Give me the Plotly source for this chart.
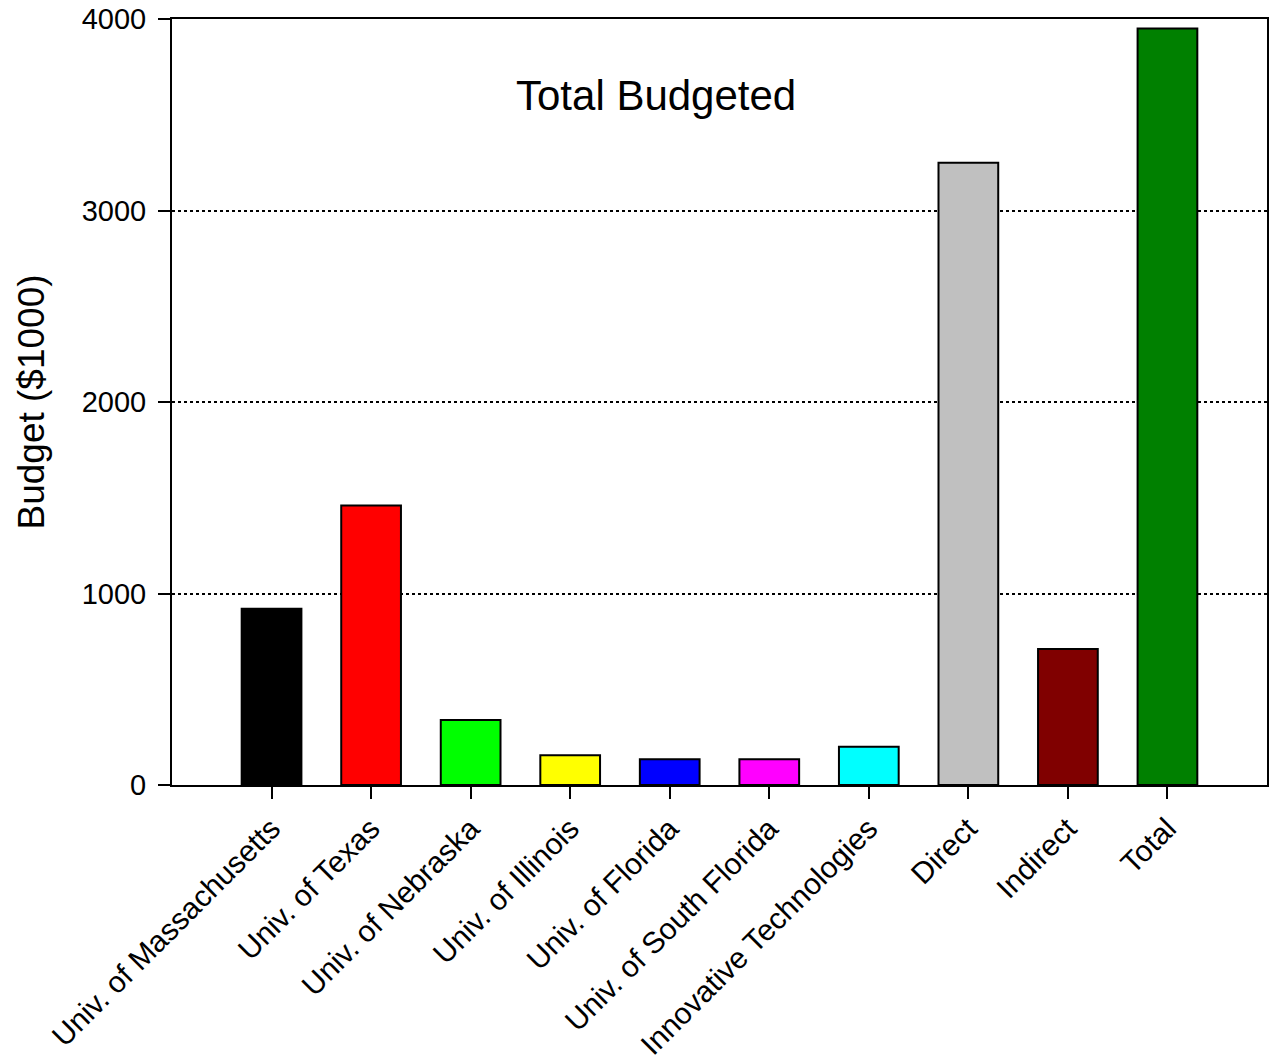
import plotly.graph_objects as go

categories = ["Univ. of Massachusetts", "Univ. of Texas", "Univ. of Nebraska",
              "Univ. of Illinois", "Univ. of Florida", "Univ. of South Florida",
              "Innovative Technologies", "Direct", "Indirect", "Total"]
budget = [920, 1460, 340, 155, 135, 135, 200, 3250, 710, 3950]
colors = ["#000000", "#ff0000", "#00ff00", "#ffff00", "#0000ff", "#ff00ff",
          "#00ffff", "#c0c0c0", "#800000", "#008000"]
y_ticks = [0, 1000, 2000, 3000, 4000]

font = "Liberation Sans, Arial, sans-serif"

fig = go.Figure(go.Bar(
    x=categories, y=budget, width=0.6,
    marker=dict(color=colors, line=dict(color="black", width=2)),
))

fig.update_layout(
    width=1270, height=1061,
    margin=dict(l=172, r=3, t=19, b=276),
    plot_bgcolor="white", paper_bgcolor="white",
    showlegend=False,
    font=dict(family=font, color="black", size=28),
    annotations=[dict(text="Total Budgeted", x=0.4416, y=0.9, xref="paper", yref="paper",
                      xanchor="center", yanchor="middle",
                      showarrow=False, font=dict(size=42, family=font, color="black"))],
)
fig.update_xaxes(
    range=[-1, 10], showline=True, linecolor="black", linewidth=2, mirror=True,
    ticks="outside", ticklen=12, tickwidth=2, tickcolor="black",
    tickangle=-45, tickfont=dict(size=30), showgrid=False, automargin=False,
)
fig.update_yaxes(
    range=[0, 4000], tickvals=y_ticks, showline=True, linecolor="black", linewidth=2,
    mirror=True, ticks="outside", ticklen=12, tickwidth=2, tickcolor="black",
    ticklabelstandoff=6, automargin=False,
    showgrid=True, gridcolor="black", gridwidth=2, griddash="dot", zeroline=False,
    title=dict(text="Budget ($1000)", font=dict(size=37), standoff=26),
    tickfont=dict(size=29),
)

fig.write_html("out.html")
